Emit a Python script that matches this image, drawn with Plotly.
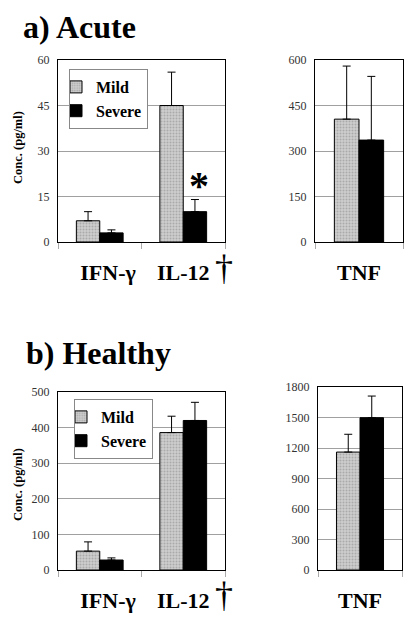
import plotly.graph_objects as go

# ---- data ----
cats_left = ["IFN-γ", "IL-12"]
cats_right = ["TNF"]
series = ["Mild", "Severe"]

acute_mild = [7.0, 45.0]
acute_mild_err = [3.0, 11.0]
acute_severe = [3.0, 10.0]
acute_severe_err = [1.0, 4.0]
acute_tnf_mild = [405]
acute_tnf_mild_err = [175]
acute_tnf_severe = [336]
acute_tnf_severe_err = [210]

healthy_mild = [53, 386]
healthy_mild_err = [26, 46]
healthy_severe = [28, 420]
healthy_severe_err = [6, 51]
healthy_tnf_mild = [1160]
healthy_tnf_mild_err = [175]
healthy_tnf_severe = [1498]
healthy_tnf_severe_err = [213]

acute_left_ticks = [0, 15, 30, 45, 60]
acute_right_ticks = [0, 150, 300, 450, 600]
healthy_left_ticks = [0, 100, 200, 300, 400, 500]
healthy_right_ticks = [0, 300, 600, 900, 1200, 1500, 1800]

# page body has an 8px default margin: design in window pixels, shift by OFF
OFF = 8
W, H = 416 - OFF, 621 - OFF
SERIF = "Liberation Serif, Times New Roman, serif"

def px(x):
    return (x - OFF) / W

def py(y):
    return 1 - (y - OFF) / H

mild_marker = dict(color="#c8c8c8", line=dict(color="black", width=1),
                   pattern=dict(shape=".", fgcolor="#888888", bgcolor="#cdcdcd", size=3, solidity=0.35))
severe_marker = dict(color="black", line=dict(color="black", width=1))

def err(arr):
    return dict(type="data", array=arr, arrayminus=[0] * len(arr), symmetric=False,
                color="black", thickness=1, width=4)

fig = go.Figure()

panels = [
    ("x", "y", cats_left, acute_mild, acute_mild_err, acute_severe, acute_severe_err, "legend", True),
    ("x2", "y2", cats_right, acute_tnf_mild, acute_tnf_mild_err, acute_tnf_severe, acute_tnf_severe_err, "legend", False),
    ("x3", "y3", cats_left, healthy_mild, healthy_mild_err, healthy_severe, healthy_severe_err, "legend2", True),
    ("x4", "y4", cats_right, healthy_tnf_mild, healthy_tnf_mild_err, healthy_tnf_severe, healthy_tnf_severe_err, "legend2", False),
]

for i, (xa, ya, cats, m, me, s, se, leg, sl) in enumerate(panels):
    fig.add_trace(go.Bar(x=cats, y=m, name=series[0], marker=mild_marker, error_y=err(me),
                         xaxis=xa, yaxis=ya, legend=leg, showlegend=sl,
                         legendgroup=f"m{i}"))
    fig.add_trace(go.Bar(x=cats, y=s, name=series[1], marker=severe_marker, error_y=err(se),
                         xaxis=xa, yaxis=ya, legend=leg, showlegend=sl,
                         legendgroup=f"s{i}"))

def xaxis(domain, anchor, cats):
    labels = [("\u00a0\u00a0\u00a0" + c) if c == "IFN-γ" else c for c in cats]
    return dict(domain=domain, anchor=anchor, showline=True, linecolor="black", linewidth=1,
                mirror=True, ticks="outside", tickson="boundaries", ticklen=6, tickcolor="#aaa",
                showgrid=False, ticklabelstandoff=11, tickangle=0,
                tickvals=cats, ticktext=labels,
                tickfont=dict(family=SERIF, size=22, color="black", weight="bold"))

def yaxis(domain, anchor, ticks):
    return dict(domain=domain, anchor=anchor, range=[0, ticks[-1]], tickvals=ticks,
                showline=True, linecolor="black", linewidth=1, mirror=True,
                showgrid=True, gridcolor="#a0a0a0", gridwidth=1, zeroline=False,
                ticks="", ticklabelstandoff=5,
                tickfont=dict(family=SERIF, size=12, color="#333"))

legend_style = dict(xanchor="left", yanchor="top", bgcolor="white", bordercolor="#888",
                    borderwidth=1, font=dict(family=SERIF, size=16, color="black", weight="bold"),
                    tracegroupgap=0, itemwidth=30, indentation=-14)

fig.update_layout(
    width=W, height=H, margin=dict(l=0, r=0, t=0, b=0, autoexpand=False),
    paper_bgcolor="white", plot_bgcolor="white",
    barmode="group", bargap=0.44, bargroupgap=0,
    xaxis=xaxis([px(58), px(225)], "y", cats_left),
    yaxis=yaxis([py(242), py(60)], "x", acute_left_ticks),
    xaxis2=xaxis([px(315), px(403)], "y2", cats_right),
    yaxis2=yaxis([py(242), py(60)], "x2", acute_right_ticks),
    xaxis3=xaxis([px(58), px(225)], "y3", cats_left),
    yaxis3=yaxis([py(570), py(392)], "x3", healthy_left_ticks),
    xaxis4=xaxis([px(318), px(402)], "y4", cats_right),
    yaxis4=yaxis([py(570), py(387)], "x4", healthy_right_ticks),
    legend=dict(x=px(69), y=py(69), **legend_style),
    legend2=dict(x=px(74), y=py(399), **legend_style),
    showlegend=True,
)

ann = []
ann.append(dict(text="a) Acute", x=px(21), y=py(27), xref="paper", yref="paper",
                xanchor="left", yanchor="middle", showarrow=False,
                font=dict(family=SERIF, size=32, color="black", weight="bold")))
ann.append(dict(text="b) Healthy", x=px(24), y=py(353), xref="paper", yref="paper",
                xanchor="left", yanchor="middle", showarrow=False,
                font=dict(family=SERIF, size=32, color="black", weight="bold")))
for yc in (148, 485):
    ann.append(dict(text="Conc. (pg/ml)", x=px(18), y=py(yc), xref="paper", yref="paper",
                    textangle=-90, showarrow=False, xanchor="center", yanchor="middle",
                    font=dict(family=SERIF, size=12.5, color="black", weight="bold")))
for yc in (268, 595):
    ann.append(dict(text="†", x=px(224), y=py(yc), xref="paper", yref="paper",
                    showarrow=False, xanchor="center", yanchor="middle",
                    font=dict(family=SERIF, size=36, color="black")))
ann.append(dict(text="*", x=px(199), y=py(186), xref="paper", yref="paper",
                showarrow=False, xanchor="center", yanchor="middle",
                font=dict(family=SERIF, size=40, color="black", weight="bold")))
fig.update_layout(annotations=ann)

fig.write_html("out.html")
